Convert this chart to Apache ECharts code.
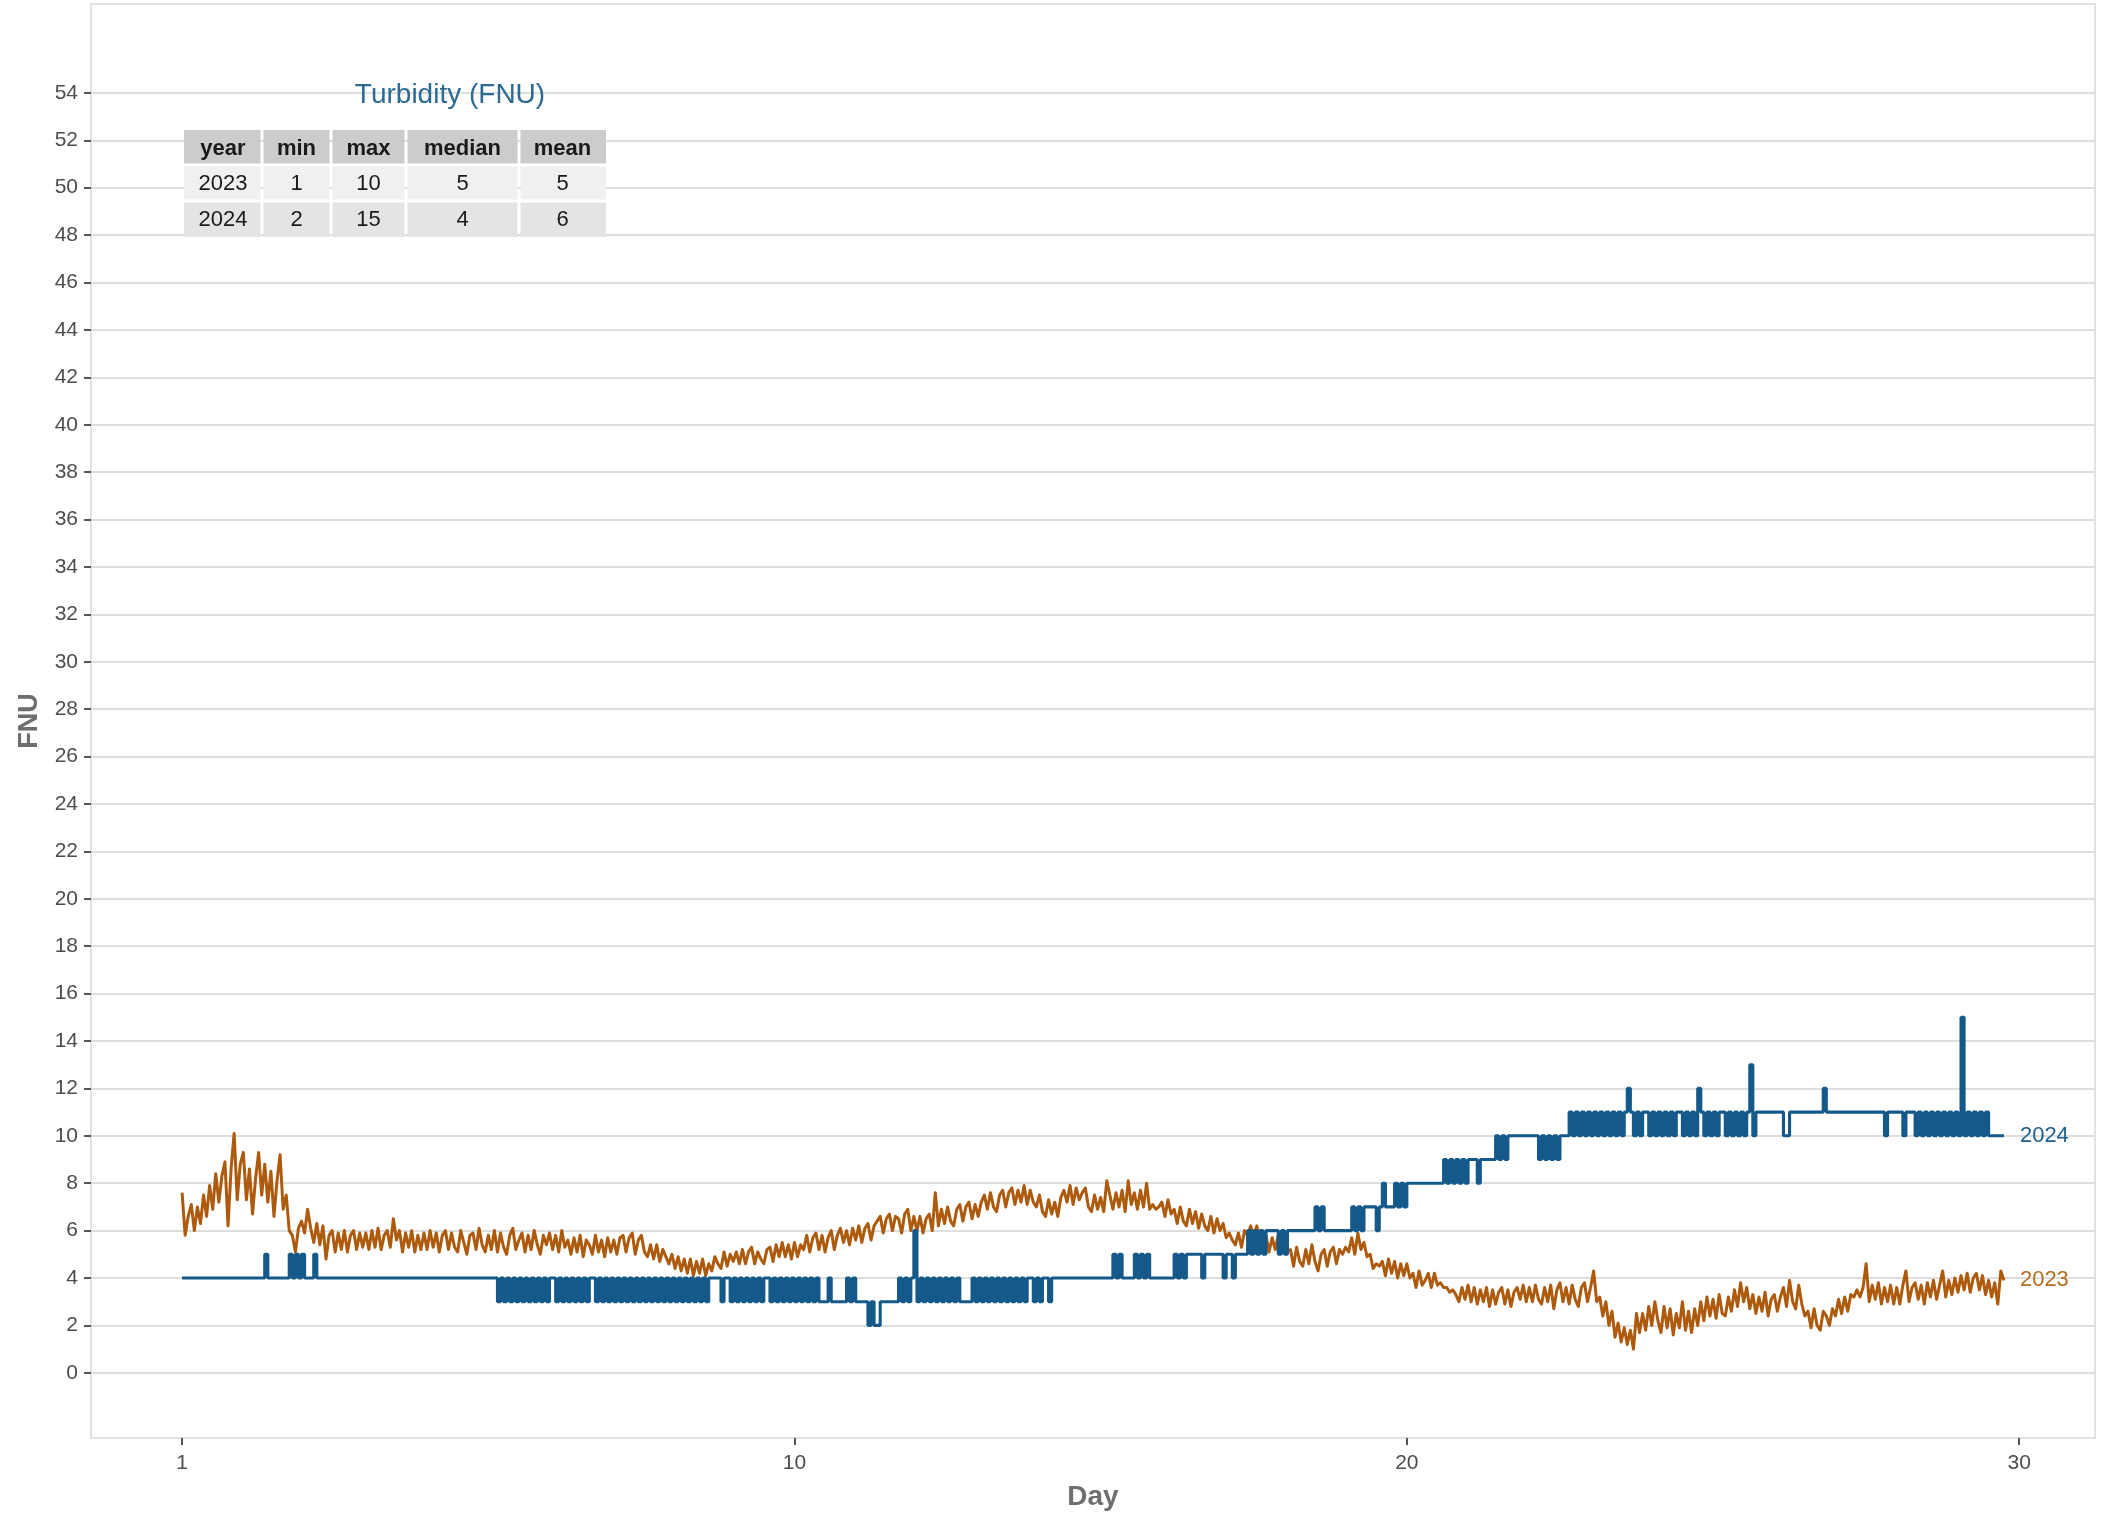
<!DOCTYPE html>
<html>
<head>
<meta charset="utf-8">
<script src="https://cdn.jsdelivr.net/npm/echarts@6/dist/echarts.min.js"></script>
<style>
  html, body { margin: 0; padding: 0; background: #ffffff; }
  #chart { width: 2101px; height: 1518px; }
</style>
</head>
<body>
<div id="chart"></div>
<script>
// Turbidity readings (FNU), one reading every 0.05 day from the first day.
const readingInterval = 0.05;

const turbidity2023 = [
  7.6, 5.8, 6.6, 7.1, 6.0, 7.0, 6.3, 7.5, 6.6, 7.9, 6.9, 8.4, 7.2, 8.3, 8.9, 6.2, 8.6, 10.1, 7.3, 8.8,
  9.3, 7.3, 8.6, 6.7, 8.2, 9.3, 7.5, 8.8, 7.2, 8.5, 6.6, 8.1, 9.2, 6.9, 7.5, 6.0, 5.8, 5.1, 6.1, 6.4,
  5.9, 6.9, 6.1, 5.5, 6.3, 5.4, 6.2, 4.8, 5.8, 6.0, 5.1, 5.9, 5.2, 6.0, 5.1, 5.8, 6.0, 5.2, 5.9, 5.3,
  5.9, 5.2, 6.0, 5.3, 6.1, 5.2, 5.8, 6.0, 5.3, 6.5, 5.6, 6.0, 5.1, 5.9, 5.3, 6.0, 5.1, 5.8, 5.2, 5.9,
  5.2, 6.0, 5.3, 5.9, 5.1, 5.8, 6.0, 5.2, 5.9, 5.3, 5.1, 6.0, 5.5, 5.0, 5.8, 5.9, 5.2, 6.1, 5.4, 5.1,
  5.8, 5.2, 6.0, 5.1, 5.9, 5.3, 5.0, 5.8, 6.1, 5.2, 5.6, 5.9, 5.1, 5.8, 5.2, 6.0, 5.4, 5.0, 5.8, 5.4,
  5.9, 5.2, 5.8, 5.1, 6.0, 5.3, 5.6, 5.0, 5.7, 5.1, 5.8, 4.9, 5.6, 5.4, 5.0, 5.8, 5.1, 5.6, 4.9, 5.7,
  5.1, 5.6, 5.0, 5.7, 5.8, 5.1, 5.7, 5.9, 5.0, 5.6, 5.8, 5.1, 4.9, 5.4, 4.8, 5.4, 4.7, 5.2, 4.9, 4.6,
  5.0, 4.4, 4.9, 4.3, 4.8, 4.2, 4.8, 4.1, 4.7, 4.2, 4.8, 4.1, 4.6, 4.3, 4.9, 4.6, 4.4, 5.1, 4.5, 5.0,
  4.7, 5.1, 4.6, 5.2, 4.6, 5.1, 5.3, 4.6, 5.1, 4.8, 4.6, 5.2, 5.3, 4.7, 5.4, 4.9, 5.5, 4.9, 5.4, 4.8,
  5.5, 4.9, 5.4, 5.2, 5.8, 5.1, 5.7, 5.9, 5.2, 5.8, 5.1, 5.7, 6.0, 5.2, 5.8, 6.1, 5.5, 6.0, 5.4, 6.1,
  5.6, 6.2, 5.5, 6.1, 6.3, 5.6, 6.2, 6.4, 6.6, 5.9, 6.5, 6.7, 6.0, 6.6, 6.5, 5.9, 6.7, 6.9, 6.0, 6.6,
  6.0, 6.6, 5.9, 6.5, 6.7, 6.0, 7.6, 6.2, 6.9, 6.3, 7.0, 6.4, 6.2, 6.9, 7.1, 6.4, 7.0, 7.2, 6.5, 7.1,
  6.6, 7.2, 7.5, 6.9, 7.6, 7.0, 6.8, 7.5, 7.7, 7.0, 7.6, 7.8, 7.1, 7.7, 7.2, 7.9, 7.1, 7.7, 7.2, 7.0,
  7.5, 6.8, 6.6, 7.3, 6.7, 7.2, 6.6, 7.4, 7.7, 7.2, 7.9, 7.1, 7.8, 7.3, 7.6, 7.8, 7.0, 6.8, 7.5, 6.9,
  7.4, 6.8, 8.1, 7.5, 6.9, 7.6, 7.0, 7.7, 6.8, 8.1, 7.1, 7.6, 6.9, 7.7, 7.0, 8.0, 6.9, 7.1, 6.9, 7.0,
  7.2, 6.6, 7.3, 6.7, 6.9, 6.3, 7.0, 6.4, 6.2, 6.9, 6.3, 6.8, 6.1, 6.7, 6.2, 6.0, 6.6, 5.9, 6.5, 6.0,
  6.3, 5.7, 5.9, 5.6, 5.4, 5.9, 5.3, 6.0, 5.8, 6.2, 5.7, 6.2, 5.5, 5.3, 5.8, 5.1, 5.7, 5.2, 5.8, 5.1,
  5.8, 5.1, 5.2, 4.5, 5.3, 4.7, 4.5, 5.2, 4.6, 5.4, 4.7, 4.3, 5.0, 5.2, 4.5, 5.1, 5.3, 4.6, 5.2, 5.0,
  5.3, 5.1, 5.7, 5.0, 5.9, 5.2, 5.5, 4.9, 5.0, 4.4, 4.6, 4.5, 4.7, 4.1, 4.8, 4.2, 4.7, 4.0, 4.6, 4.1,
  4.6, 4.0, 4.2, 3.6, 4.3, 3.7, 3.9, 4.2, 3.6, 4.2, 3.7, 3.8, 3.6, 3.6, 3.4, 3.5, 3.3, 3.0, 3.6, 3.1,
  3.7, 3.0, 3.6, 2.9, 3.5, 3.0, 3.6, 2.8, 3.5, 2.9, 3.4, 3.6, 2.9, 3.5, 2.8, 3.4, 3.6, 3.1, 3.7, 3.0,
  3.6, 3.0, 3.7, 3.1, 2.9, 3.6, 3.0, 3.7, 2.7, 3.5, 3.8, 3.0, 3.6, 2.9, 3.7, 3.1, 2.8, 3.6, 3.8, 3.0,
  3.6, 4.3, 3.0, 3.2, 2.4, 3.0, 2.0, 2.6, 1.5, 2.1, 1.3, 1.9, 1.2, 1.8, 1.0, 2.5, 1.7, 2.5, 1.8, 2.8,
  2.0, 3.0, 2.2, 1.7, 2.8, 1.9, 2.7, 1.6, 2.5, 1.9, 3.0, 1.8, 2.6, 1.7, 2.7, 2.0, 3.0, 2.2, 3.2, 2.4,
  3.1, 2.3, 3.3, 2.5, 2.4, 3.2, 2.6, 3.5, 2.8, 3.8, 3.0, 3.6, 2.7, 3.3, 2.5, 3.2, 2.6, 3.4, 2.4, 3.1,
  3.3, 2.6, 3.2, 3.6, 2.8, 3.9, 3.0, 2.7, 3.7, 2.9, 2.4, 2.6, 1.9, 2.7, 2.0, 1.8, 2.6, 2.4, 2.0, 2.7,
  2.4, 3.1, 2.5, 3.2, 2.6, 3.3, 3.2, 3.5, 3.2, 3.6, 4.6, 3.0, 3.7, 3.1, 3.8, 2.9, 3.6, 3.0, 3.7, 2.9,
  3.6, 2.9, 3.7, 4.3, 3.0, 3.6, 3.8, 3.1, 3.7, 2.9, 3.8, 3.2, 3.9, 3.1, 3.7, 4.3, 3.2, 3.9, 3.3, 4.0,
  3.4, 4.1, 3.5, 4.2, 3.4, 4.0, 4.2, 3.5, 4.1, 3.3, 3.9, 3.2, 3.8, 2.9, 4.3, 3.9
];

const turbidity2024 = [
  4, 4, 4, 4, 4, 4, 4, 4, 4, 4, 4, 4, 4, 4, 4, 4, 4, 4, 4, 4,
  4, 4, 4, 4, 4, 4, 4, 5, 4, 4, 4, 4, 4, 4, 4, 5, 4, 5, 4, 5,
  4, 4, 4, 5, 4, 4, 4, 4, 4, 4, 4, 4, 4, 4, 4, 4, 4, 4, 4, 4,
  4, 4, 4, 4, 4, 4, 4, 4, 4, 4, 4, 4, 4, 4, 4, 4, 4, 4, 4, 4,
  4, 4, 4, 4, 4, 4, 4, 4, 4, 4, 4, 4, 4, 4, 4, 4, 4, 4, 4, 4,
  4, 4, 4, 3, 4, 3, 4, 3, 4, 3, 4, 3, 4, 3, 4, 3, 4, 3, 4, 3,
  4, 4, 3, 4, 3, 4, 3, 4, 3, 4, 3, 4, 3, 4, 4, 3, 4, 3, 4, 3,
  4, 3, 4, 3, 4, 3, 4, 3, 4, 3, 4, 3, 4, 3, 4, 3, 4, 3, 4, 3,
  4, 3, 4, 3, 4, 3, 4, 3, 4, 3, 4, 3, 4, 4, 4, 4, 3, 4, 4, 3,
  4, 3, 4, 3, 4, 3, 4, 3, 4, 3, 4, 4, 3, 4, 3, 4, 3, 4, 3, 4,
  3, 4, 3, 4, 3, 4, 3, 4, 3, 3, 3, 4, 3, 3, 3, 3, 3, 4, 3, 4,
  3, 3, 3, 3, 2, 3, 2, 2, 3, 3, 3, 3, 3, 3, 4, 3, 4, 3, 4, 6,
  3, 4, 3, 4, 3, 4, 3, 4, 3, 4, 3, 4, 3, 4, 3, 3, 3, 3, 4, 3,
  4, 3, 4, 3, 4, 3, 4, 3, 4, 3, 4, 3, 4, 3, 4, 3, 4, 4, 3, 4,
  3, 4, 4, 3, 4, 4, 4, 4, 4, 4, 4, 4, 4, 4, 4, 4, 4, 4, 4, 4,
  4, 4, 4, 4, 5, 4, 5, 4, 4, 4, 4, 5, 4, 5, 4, 5, 4, 4, 4, 4,
  4, 4, 4, 4, 5, 4, 5, 4, 5, 5, 5, 5, 5, 4, 5, 5, 5, 5, 5, 5,
  4, 5, 5, 4, 5, 5, 5, 5, 6, 5, 6, 5, 6, 5, 6, 6, 6, 6, 5, 6,
  5, 6, 6, 6, 6, 6, 6, 6, 6, 6, 7, 6, 7, 6, 6, 6, 6, 6, 6, 6,
  6, 6, 7, 6, 7, 6, 7, 7, 7, 7, 6, 7, 8, 7, 7, 7, 8, 7, 8, 7,
  8, 8, 8, 8, 8, 8, 8, 8, 8, 8, 8, 8, 9, 8, 9, 8, 9, 8, 9, 8,
  9, 9, 9, 8, 9, 9, 9, 9, 9, 10, 9, 10, 9, 10, 10, 10, 10, 10, 10, 10,
  10, 10, 10, 9, 10, 9, 10, 9, 10, 9, 10, 10, 10, 11, 10, 11, 10, 11, 10, 11,
  10, 11, 10, 11, 10, 11, 10, 11, 10, 11, 10, 11, 12, 11, 10, 11, 10, 11, 11, 10,
  11, 10, 11, 10, 11, 10, 11, 10, 11, 11, 10, 11, 10, 11, 10, 12, 11, 10, 11, 10,
  11, 10, 11, 11, 10, 11, 10, 11, 10, 11, 10, 11, 13, 10, 11, 11, 11, 11, 11, 11,
  11, 11, 11, 10, 10, 11, 11, 11, 11, 11, 11, 11, 11, 11, 11, 11, 12, 11, 11, 11,
  11, 11, 11, 11, 11, 11, 11, 11, 11, 11, 11, 11, 11, 11, 11, 11, 10, 11, 11, 11,
  11, 11, 10, 11, 11, 11, 10, 11, 10, 11, 10, 11, 10, 11, 10, 11, 10, 11, 10, 11,
  10, 15, 10, 11, 10, 11, 10, 11, 10, 11, 10, 10, 10, 10, 10, 10
];

// Axis ticks
const xTickValues = [0, 10, 20, 30];
const xTickLabels = ['1', '10', '20', '30'];
const yTickValues = [0, 2, 4, 6, 8, 10, 12, 14, 16, 18, 20, 22, 24, 26, 28, 30, 32, 34, 36, 38, 40, 42, 44, 46, 48, 50, 52, 54];
const yLimits = [0, 55];

// Summary table
const statsColumns = ['year', 'min', 'max', 'median', 'mean'];
const statsRows = [
  ['2023', '1', '10', '5', '5'],
  ['2024', '2', '15', '4', '6']
];
const tableTitle = 'Turbidity (FNU)';

const seriesNames = ['2023', '2024'];
const colors = { y2023: '#AE5A0C', y2024: '#14598A', label2023: '#B46E20', label2024: '#21618E', title: '#2C6A92' };
const FONT = '"Liberation Sans", Arial, Helvetica, sans-serif';

function toPoints(values) {
  return values.map((v, i) => [i * readingInterval, v]);
}

const pts2023 = toPoints(turbidity2023);
const pts2024 = toPoints(turbidity2024);
const lastDay = Math.max(pts2023[pts2023.length - 1][0], pts2024[pts2024.length - 1][0]);
const xPad = lastDay * 0.05;
const yPad = (yLimits[1] - yLimits[0]) * 0.05;

// Table layout (pixels)
const colEdges = [184, 262, 331, 406, 519, 606];
const rowEdges = [130, 165, 201, 237];
const rowFills = ['#CCCCCC', '#F0F0F0', '#E4E4E4'];
const gap = 1.5;

const graphics = [];
graphics.push({
  type: 'text',
  style: {
    text: tableTitle, x: 450, y: 95, font: '28px ' + FONT, fill: colors.title,
    textAlign: 'center', textVerticalAlign: 'middle', align: 'center', verticalAlign: 'middle'
  },
  z: 100
});
const tableRows = [statsColumns].concat(statsRows);
tableRows.forEach((row, r) => {
  row.forEach((cell, c) => {
    const x0 = colEdges[c] + (c === 0 ? 0 : gap);
    const x1 = colEdges[c + 1] - (c === row.length - 1 ? 0 : gap);
    const y0 = rowEdges[r] + (r === 0 ? 0 : gap);
    const y1 = rowEdges[r + 1] - (r === tableRows.length - 1 ? 0 : gap);
    graphics.push({
      type: 'rect',
      shape: { x: x0, y: y0, width: x1 - x0, height: y1 - y0 },
      style: { fill: rowFills[r] },
      z: 100
    });
    graphics.push({
      type: 'text',
      style: {
        text: cell, x: (colEdges[c] + colEdges[c + 1]) / 2, y: (rowEdges[r] + rowEdges[r + 1]) / 2 + 1,
        font: (r === 0 ? 'bold ' : '') + '22px ' + FONT, fill: '#1A1A1A',
        textAlign: 'center', textVerticalAlign: 'middle', align: 'center', verticalAlign: 'middle'
      },
      z: 101
    });
  });
});

const chart = echarts.init(document.getElementById('chart'), null, { renderer: 'canvas' });
chart.setOption({
  animation: false,
  backgroundColor: '#ffffff',
  textStyle: { fontFamily: FONT },
  grid: {
    left: 91, right: 6, top: 4, bottom: 80,
    show: true, borderColor: '#E2E2E2', borderWidth: 2, backgroundColor: 'transparent'
  },
  xAxis: {
    type: 'value',
    min: -xPad,
    max: lastDay + xPad,
    name: 'Day',
    nameLocation: 'middle',
    nameGap: 45,
    nameTextStyle: { fontSize: 28, fontWeight: 'bold', color: '#6E6E6E', fontFamily: FONT },
    axisLine: { show: false, onZero: false },
    axisTick: { show: true, customValues: xTickValues, length: 7, lineStyle: { color: '#555555', width: 2 } },
    axisLabel: {
      show: true, customValues: xTickValues, margin: 15, fontSize: 21, color: '#4D4D4D', fontFamily: FONT,
      formatter: v => xTickLabels[xTickValues.indexOf(v)]
    },
    splitLine: { show: false }
  },
  yAxis: {
    type: 'value',
    min: yLimits[0] - yPad,
    max: yLimits[1] + yPad,
    name: 'FNU',
    nameLocation: 'middle',
    nameGap: 48,
    nameRotate: 90,
    nameTextStyle: { fontSize: 27, fontWeight: 'bold', color: '#6E6E6E', fontFamily: FONT },
    axisLine: { show: false, onZero: false },
    axisTick: { show: true, customValues: yTickValues, length: 7, lineStyle: { color: '#555555', width: 2 } },
    axisLabel: { show: true, customValues: yTickValues, margin: 13, fontSize: 21, color: '#4D4D4D', fontFamily: FONT },
    splitLine: { show: true, lineStyle: { color: '#DEDEDE', width: 2 } }
  },
  series: [
    {
      name: seriesNames[0],
      type: 'line',
      data: pts2023,
      showSymbol: false,
      symbol: 'none',
      lineStyle: { color: colors.y2023, width: 3, join: 'round' },
      itemStyle: { color: colors.y2023 },
      endLabel: { show: true, formatter: '{a}', distance: 16, fontSize: 22, color: colors.label2023, fontFamily: FONT },
      z: 2
    },
    {
      name: seriesNames[1],
      type: 'line',
      data: pts2024,
      step: 'end',
      showSymbol: false,
      symbol: 'none',
      lineStyle: { color: colors.y2024, width: 3.1 },
      itemStyle: { color: colors.y2024 },
      endLabel: { show: true, formatter: '{a}', distance: 16, fontSize: 22, color: colors.label2024, fontFamily: FONT },
      z: 3
    }
  ],
  graphic: graphics
});
</script>
</body>
</html>
